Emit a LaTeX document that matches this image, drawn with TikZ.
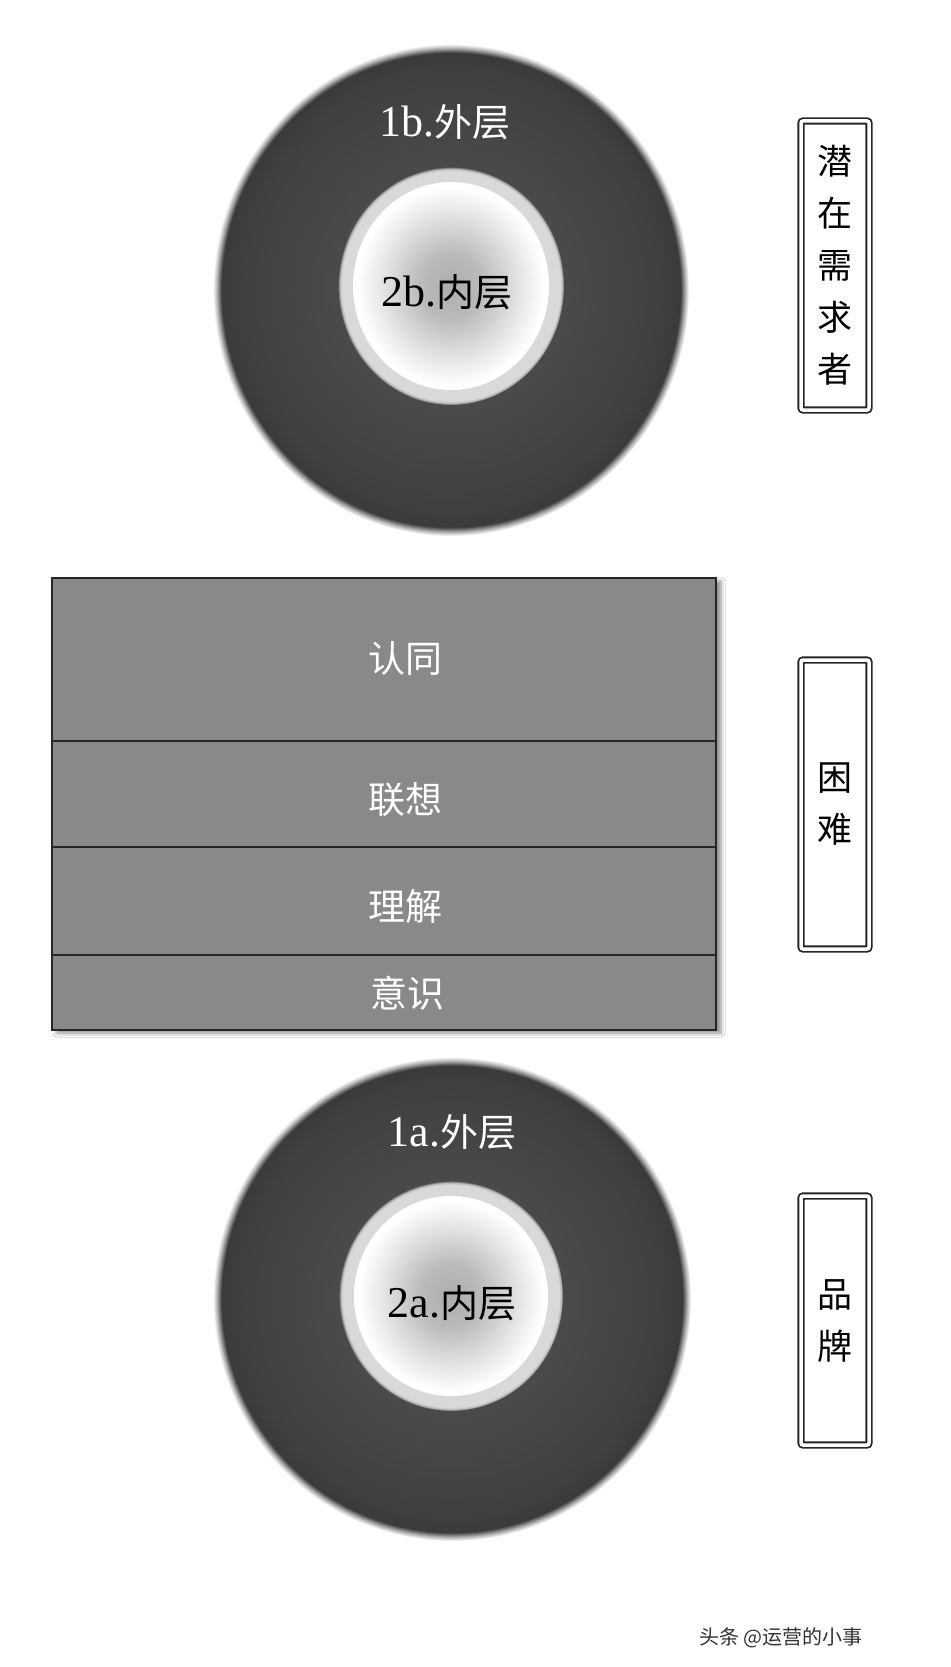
\documentclass[tikz,border=0pt]{standalone}
\usepackage{fontspec}
\setmainfont{Liberation Serif}
\newfontfamily\cjk{Noto Sans CJK SC}
\usetikzlibrary{shadows.blur}
\definecolor{dc0}{HTML}{545454}
\definecolor{dc1}{HTML}{4C4C4C}
\definecolor{dc2}{HTML}{404040}
\definecolor{dc3}{HTML}{3A3A3A}
\definecolor{ringc}{HTML}{D9D9D9}
\definecolor{ic0}{HTML}{ADADAD}
\definecolor{ic1}{HTML}{BBBBBB}
\definecolor{ic2}{HTML}{EBEBEB}
\definecolor{bandc}{HTML}{8A898A}
\pgfdeclareradialshading{darkdisc}{\pgfpoint{0bp}{0bp}}{color(0bp)=(dc0); color(10bp)=(dc1); color(22bp)=(dc2); color(24.1bp)=(dc3); color(24.6bp)=(gray!60); color(25bp)=(white); color(50bp)=(white)}
\pgfdeclareradialshading{ringdisc}{\pgfpoint{0bp}{0bp}}{color(0bp)=(ringc); color(24.2bp)=(ringc); color(24.7bp)=(ringc!70!dc1); color(25bp)=(dc1); color(50bp)=(dc1)}
\pgfdeclareradialshading{lightdisc}{\pgfpoint{0bp}{0bp}}{color(0bp)=(ic0); color(8bp)=(ic1); color(19bp)=(ic2); color(24bp)=(white); color(25bp)=(white); color(50bp)=(white)}
\tikzset{
  outerdisc/.style={shading=darkdisc},
  ringdiscs/.style={shading=ringdisc},
  innerdisc/.style={shading=lightdisc},
  band/.style={draw=black!85, line width=2.4pt, fill=bandc, rectangle, inner sep=0pt, minimum width=664pt},
  bandtext/.style={text=white, font=\cjk\fontsize{37}{40}\selectfont},
  lbl/.style={font=\fontsize{44}{48}\selectfont, inner sep=0pt},
  sidebox/.style={draw=black!85, line width=1.8pt, double=white, double distance=3.5pt, rounded corners=2pt, minimum width=68pt, inner sep=0pt, align=center, font=\cjk\fontsize{35}{52}\selectfont},
  wmark/.style={text=black!80, font=\cjk\fontsize{20}{22}\selectfont}
}
\begin{document}
\begin{tikzpicture}[x=1pt,y=-1pt]
\fill[white] (0,0) rectangle (950,1667);
\useasboundingbox (0,0) rectangle (950,1667);

% top discs
\path[outerdisc] (451,290) ellipse [x radius=238, y radius=246];
\path[ringdiscs] (451,286) ellipse [x radius=113, y radius=119];
\path[innerdisc] (451,286) ellipse [x radius=98, y radius=104];
\node[lbl, text=white] (t1b) at (445,122) {1b.{\cjk\fontsize{38}{40}\selectfont 外层}};
\node[lbl, text=black] (t2b) at (447,292) {2b.{\cjk\fontsize{38}{40}\selectfont 内层}};

% bands
\path[fill=bandc, blur shadow={shadow xshift=5pt, shadow yshift=-3pt, shadow blur radius=4pt, shadow opacity=45}] (52,578) rectangle (716,1030);
\node[band, minimum height=163pt] (b1) at (384,659.5) {};
\node[band, minimum height=106pt] (b2) at (384,794) {};
\node[band, minimum height=108pt] (b3) at (384,901) {};
\node[band, minimum height=75pt] (b4) at (384,992.5) {};
\node[bandtext] (s1) at (405,658) {认同};
\node[bandtext] (s2) at (405,800) {联想};
\node[bandtext] (s3) at (405,906) {理解};
\node[bandtext] (s4) at (407,993) {意识};

% bottom discs
\path[outerdisc] (452,1299) ellipse [x radius=239, y radius=242];
\path[ringdiscs] (451,1296) ellipse [x radius=112, y radius=115];
\path[innerdisc] (451,1296) ellipse [x radius=97, y radius=100];
\node[lbl, text=white] (t1a) at (452,1132) {1a.{\cjk\fontsize{38}{40}\selectfont 外层}};
\node[lbl, text=black] (t2a) at (452,1303) {2a.{\cjk\fontsize{38}{40}\selectfont 内层}};

% side boxes
\node[sidebox, minimum height=289pt] (k1) at (835,265.5) {潜\\在\\需\\求\\者};
\node[sidebox, minimum height=289pt] (k2) at (835,804.5) {困\\难};
\node[sidebox, minimum height=249pt] (k3) at (835,1320.5) {品\\牌};

% watermark
\node[wmark] (wm) at (781,1638) {头条 @运营的小事};
\end{tikzpicture}
\end{document}
